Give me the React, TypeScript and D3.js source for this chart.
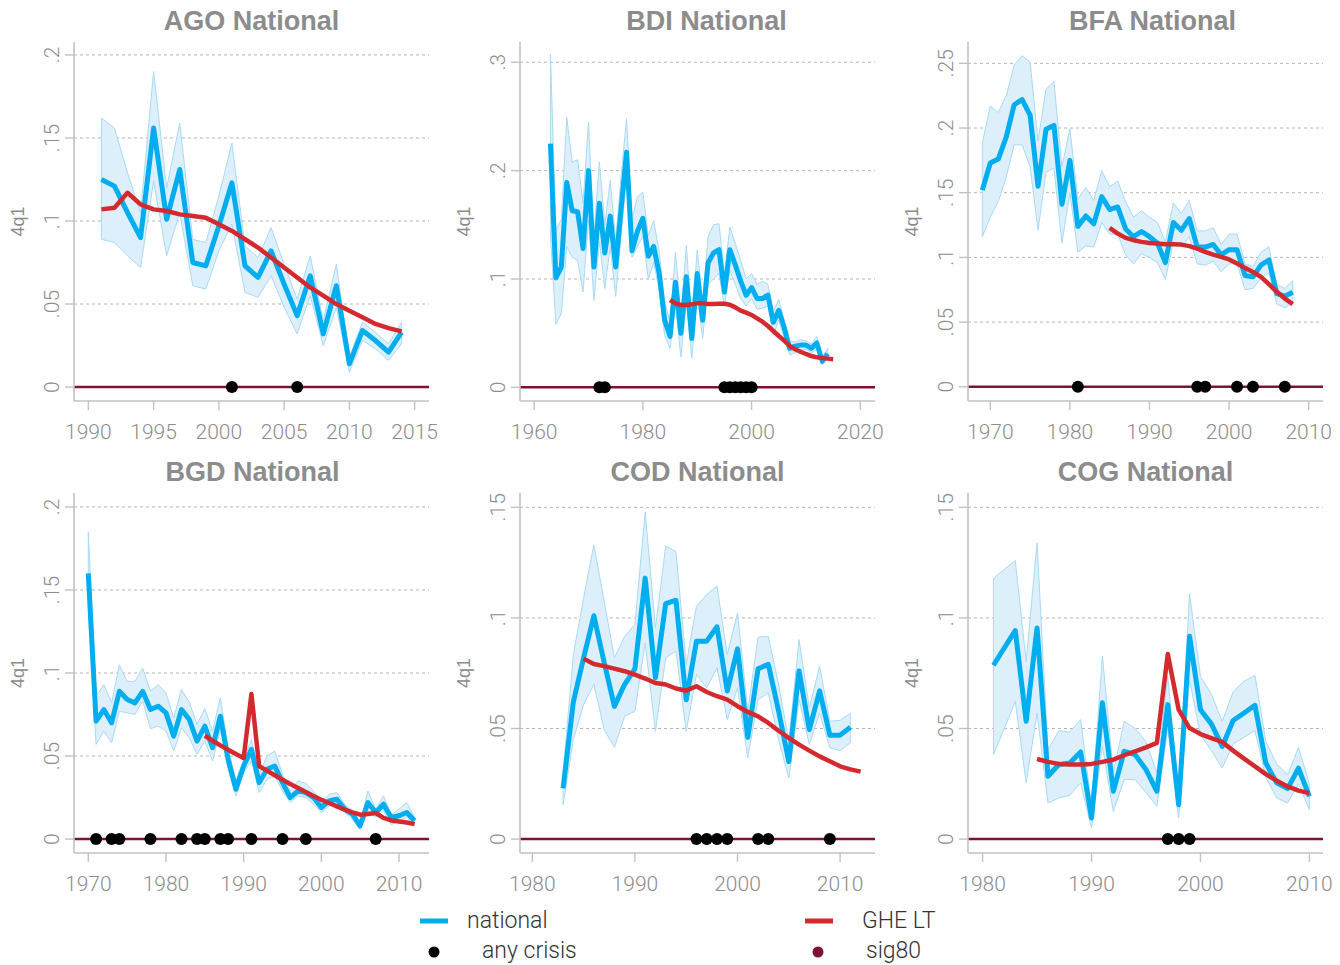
import * as d3 from 'd3';

// ---- data ----
const agoNational = [0.125, 0.121, 0.105, 0.090, 0.156, 0.101, 0.131, 0.075, 0.073, 0.097, 0.123, 0.073, 0.066, 0.082, 0.062, 0.043, 0.067, 0.032, 0.061, 0.014, 0.034, 0.028, 0.021, 0.033];
const agoHi = [0.162, 0.156, 0.129, 0.105, 0.190, 0.120, 0.159, 0.089, 0.087, 0.115, 0.147, 0.085, 0.078, 0.096, 0.074, 0.053, 0.079, 0.040, 0.074, 0.018, 0.039, 0.033, 0.026, 0.039];
const agoLo = [0.089, 0.087, 0.079, 0.072, 0.124, 0.079, 0.105, 0.061, 0.059, 0.082, 0.098, 0.057, 0.054, 0.067, 0.048, 0.032, 0.055, 0.025, 0.048, 0.009, 0.028, 0.023, 0.016, 0.026];
const agoGhe = [0.107, 0.108, 0.117, 0.110, 0.107, 0.106, 0.104, 0.103, 0.102, 0.098, 0.094, 0.089, 0.084, 0.078, 0.072, 0.066, 0.060, 0.055, 0.050, 0.046, 0.042, 0.038, 0.0355, 0.0335];
const agoCrisis = [2001, 2006];

const bdiNational = [0.225, 0.101, 0.111, 0.189, 0.163, 0.162, 0.128, 0.200, 0.111, 0.170, 0.124, 0.158, 0.111, 0.165, 0.217, 0.126, 0.144, 0.156, 0.121, 0.130, 0.105, 0.062, 0.047, 0.097, 0.050, 0.102, 0.045, 0.105, 0.062, 0.115, 0.124, 0.127, 0.088, 0.127, 0.113, 0.098, 0.085, 0.092, 0.082, 0.082, 0.085, 0.060, 0.071, 0.055, 0.036, 0.038, 0.039, 0.039, 0.036, 0.041, 0.024, 0.031];
const bdiHi = [0.307, 0.145, 0.155, 0.249, 0.208, 0.210, 0.170, 0.245, 0.140, 0.208, 0.150, 0.191, 0.135, 0.195, 0.248, 0.155, 0.176, 0.180, 0.140, 0.154, 0.125, 0.080, 0.060, 0.125, 0.065, 0.131, 0.060, 0.127, 0.080, 0.139, 0.150, 0.151, 0.105, 0.148, 0.133, 0.117, 0.100, 0.105, 0.095, 0.098, 0.095, 0.070, 0.081, 0.062, 0.042, 0.042, 0.044, 0.043, 0.040, 0.047, 0.028, 0.036];
const bdiLo = [0.140, 0.058, 0.068, 0.130, 0.120, 0.117, 0.088, 0.155, 0.080, 0.135, 0.091, 0.130, 0.084, 0.140, 0.194, 0.120, 0.130, 0.139, 0.100, 0.115, 0.090, 0.048, 0.036, 0.075, 0.028, 0.080, 0.027, 0.085, 0.045, 0.095, 0.100, 0.105, 0.075, 0.108, 0.095, 0.082, 0.075, 0.082, 0.072, 0.073, 0.075, 0.048, 0.062, 0.046, 0.030, 0.032, 0.035, 0.035, 0.032, 0.035, 0.021, 0.027];
const bdiGhe = [0.0806, 0.0775, 0.076, 0.076, 0.0766, 0.0775, 0.0775, 0.077, 0.077, 0.0772, 0.0772, 0.0763, 0.0738, 0.0708, 0.0689, 0.0668, 0.0637, 0.0606, 0.0566, 0.052, 0.0474, 0.0431, 0.0382, 0.0351, 0.0329, 0.0308, 0.0289, 0.0277, 0.027, 0.0265, 0.026];
const bdiCrisis = [1972, 1973, 1995, 1996, 1997, 1998, 1999, 2000];

const bfaNational = [0.152, 0.173, 0.176, 0.193, 0.218, 0.222, 0.210, 0.155, 0.199, 0.202, 0.141, 0.175, 0.124, 0.132, 0.126, 0.147, 0.137, 0.139, 0.122, 0.116, 0.120, 0.116, 0.111, 0.096, 0.127, 0.121, 0.130, 0.108, 0.108, 0.110, 0.102, 0.106, 0.106, 0.086, 0.085, 0.094, 0.098, 0.072, 0.070, 0.073];
const bfaHi = [0.1885, 0.217, 0.212, 0.225, 0.2485, 0.256, 0.251, 0.190, 0.230, 0.236, 0.170, 0.1995, 0.145, 0.154, 0.144, 0.167, 0.1545, 0.159, 0.143, 0.131, 0.136, 0.131, 0.127, 0.112, 0.142, 0.134, 0.144, 0.1205, 0.1205, 0.123, 0.110, 0.118, 0.118, 0.095, 0.093, 0.104, 0.108, 0.079, 0.076, 0.082];
const bfaLo = [0.116, 0.131, 0.143, 0.162, 0.187, 0.187, 0.170, 0.121, 0.166, 0.169, 0.111, 0.150, 0.104, 0.109, 0.108, 0.127, 0.118, 0.118, 0.102, 0.095, 0.103, 0.100, 0.096, 0.083, 0.112, 0.108, 0.116, 0.095, 0.094, 0.097, 0.089, 0.095, 0.095, 0.075, 0.076, 0.084, 0.088, 0.064, 0.061, 0.065];
const bfaGhe = [0.1228, 0.1184, 0.1151, 0.1133, 0.112, 0.1112, 0.1107, 0.1102, 0.1102, 0.1099, 0.1087, 0.1068, 0.1043, 0.1022, 0.1004, 0.0984, 0.0953, 0.0919, 0.0888, 0.085, 0.0793, 0.0734, 0.0682, 0.0639];
const bfaCrisis = [1981, 1996, 1997, 2001, 2003, 2007];

const bgdNational = [0.160, 0.071, 0.078, 0.070, 0.089, 0.084, 0.082, 0.089, 0.078, 0.080, 0.076, 0.062, 0.078, 0.072, 0.059, 0.068, 0.055, 0.074, 0.048, 0.030, 0.044, 0.054, 0.034, 0.042, 0.044, 0.034, 0.025, 0.029, 0.028, 0.025, 0.019, 0.023, 0.024, 0.018, 0.015, 0.008, 0.022, 0.016, 0.021, 0.013, 0.014, 0.016, 0.011];
const bgdHi = [0.185, 0.086, 0.093, 0.082, 0.105, 0.095, 0.095, 0.103, 0.089, 0.093, 0.088, 0.073, 0.090, 0.0825, 0.069, 0.0785, 0.065, 0.085, 0.055, 0.035, 0.048, 0.060, 0.039, 0.050, 0.053, 0.039, 0.029, 0.035, 0.0335, 0.029, 0.0215, 0.027, 0.028, 0.021, 0.017, 0.0095, 0.029, 0.018, 0.026, 0.0145, 0.018, 0.022, 0.013];
const bgdLo = [0.140, 0.057, 0.065, 0.058, 0.077, 0.076, 0.075, 0.083, 0.0665, 0.068, 0.065, 0.053, 0.067, 0.061, 0.051, 0.059, 0.047, 0.066, 0.042, 0.026, 0.040, 0.047, 0.028, 0.036, 0.038, 0.029, 0.022, 0.026, 0.025, 0.021, 0.016, 0.020, 0.021, 0.016, 0.012, 0.0056, 0.017, 0.013, 0.017, 0.0086, 0.011, 0.013, 0.0085];
const bgdGhe = [0.0622, 0.0592, 0.0564, 0.0538, 0.0512, 0.0488, 0.0873, 0.0438, 0.0412, 0.0384, 0.0357, 0.0331, 0.0307, 0.0283, 0.0259, 0.0237, 0.0217, 0.0197, 0.0177, 0.0161, 0.0147, 0.0151, 0.0157, 0.0127, 0.0112, 0.0106, 0.010, 0.009];
const bgdCrisis = [1971, 1973, 1974, 1978, 1982, 1984, 1985, 1987, 1988, 1991, 1995, 1998, 2007];

const codNational = [0.023, 0.062, 0.082, 0.101, 0.080, 0.060, 0.070, 0.077, 0.118, 0.073, 0.1065, 0.108, 0.063, 0.0895, 0.0895, 0.096, 0.067, 0.086, 0.046, 0.077, 0.079, 0.058, 0.035, 0.076, 0.0495, 0.067, 0.047, 0.047, 0.0506];
const codHi = [0.030, 0.0834, 0.109, 0.133, 0.1076, 0.082, 0.0917, 0.097, 0.148, 0.0955, 0.1325, 0.130, 0.079, 0.1053, 0.1106, 0.1144, 0.0834, 0.1023, 0.0578, 0.0913, 0.0917, 0.070, 0.0442, 0.0902, 0.0593, 0.0782, 0.0533, 0.0537, 0.057];
const codLo = [0.0155, 0.045, 0.0608, 0.070, 0.0495, 0.0415, 0.0555, 0.0578, 0.0887, 0.0487, 0.0819, 0.085, 0.0487, 0.0744, 0.0684, 0.0774, 0.054, 0.0684, 0.0367, 0.0631, 0.0661, 0.045, 0.0276, 0.0631, 0.0427, 0.057, 0.0412, 0.040, 0.0435];
const codGhe = [0.0815, 0.0792, 0.0782, 0.0771, 0.0759, 0.0744, 0.0726, 0.0706, 0.0699, 0.0681, 0.0671, 0.0691, 0.0665, 0.0646, 0.0631, 0.0601, 0.0575, 0.0555, 0.0525, 0.049, 0.0457, 0.0427, 0.040, 0.0374, 0.0352, 0.0329, 0.0315, 0.0305];
const codCrisis = [1996, 1997, 1998, 1999, 2002, 2003, 2009];

const cogNational = [0.0786, 0.0865, 0.0943, 0.0533, 0.0955, 0.0284, 0.0337, 0.0344, 0.0394, 0.0095, 0.0616, 0.0216, 0.0397, 0.0382, 0.0314, 0.0216, 0.0608, 0.0155, 0.0917, 0.0585, 0.0521, 0.0419, 0.0536, 0.057, 0.0605, 0.0344, 0.0254, 0.0228, 0.0321, 0.0193];
const cogHi = [0.1178, 0.122, 0.126, 0.0804, 0.134, 0.0404, 0.049, 0.0484, 0.054, 0.015, 0.0827, 0.030, 0.0533, 0.050, 0.044, 0.030, 0.0736, 0.020, 0.1109, 0.0736, 0.0656, 0.0533, 0.0665, 0.0714, 0.0741, 0.0442, 0.034, 0.029, 0.0415, 0.025];
const cogLo = [0.0382, 0.050, 0.0623, 0.0254, 0.057, 0.0163, 0.0186, 0.0198, 0.0254, 0.005, 0.042, 0.0125, 0.0269, 0.0269, 0.021, 0.0148, 0.050, 0.0095, 0.072, 0.047, 0.040, 0.0321, 0.043, 0.046, 0.049, 0.0279, 0.0186, 0.0163, 0.025, 0.0133];
const cogGhe = [0.0362, 0.0349, 0.034, 0.0337, 0.0337, 0.034, 0.0349, 0.0359, 0.0379, 0.0397, 0.0415, 0.0435, 0.0837, 0.0585, 0.0502, 0.0475, 0.0457, 0.0439, 0.040, 0.0364, 0.0329, 0.0294, 0.0264, 0.0238, 0.0219, 0.0208];
const cogCrisis = [1997, 1998, 1999];

// panel definitions: first year of each series + axis settings
const panels = [
  { title: 'AGO National', natStart: 1991, nat: agoNational, hi: agoHi, lo: agoLo, gheStart: 1991, ghe: agoGhe, crisis: agoCrisis,
    xDomain: [1988.9, 2016.1], xTicks: [1990, 1995, 2000, 2005, 2010, 2015], yDomain: [-0.0084, 0.2078], yTicks: [0, 0.05, 0.1, 0.15, 0.2] },
  { title: 'BDI National', natStart: 1963, nat: bdiNational, hi: bdiHi, lo: bdiLo, gheStart: 1985, ghe: bdiGhe, crisis: bdiCrisis,
    xDomain: [1957.4, 2022.7], xTicks: [1960, 1980, 2000, 2020], yDomain: [-0.0126, 0.3187], yTicks: [0, 0.1, 0.2, 0.3] },
  { title: 'BFA National', natStart: 1969, nat: bfaNational, hi: bfaHi, lo: bfaLo, gheStart: 1985, ghe: bfaGhe, crisis: bfaCrisis,
    xDomain: [1967.2, 2011.8], xTicks: [1970, 1980, 1990, 2000, 2010], yDomain: [-0.011, 0.2665], yTicks: [0, 0.05, 0.1, 0.15, 0.2, 0.25] },
  { title: 'BGD National', natStart: 1970, nat: bgdNational, hi: bgdHi, lo: bgdLo, gheStart: 1985, ghe: bgdGhe, crisis: bgdCrisis,
    xDomain: [1968.16, 2013.86], xTicks: [1970, 1980, 1990, 2000, 2010], yDomain: [-0.0084, 0.2084], yTicks: [0, 0.05, 0.1, 0.15, 0.2] },
  { title: 'COD National', natStart: 1983, nat: codNational, hi: codHi, lo: codLo, gheStart: 1985, ghe: codGhe, crisis: codCrisis,
    xDomain: [1978.8, 2013.4], xTicks: [1980, 1990, 2000, 2010], yDomain: [-0.0063, 0.1565], yTicks: [0, 0.05, 0.1, 0.15] },
  { title: 'COG National', natStart: 1981, nat: cogNational, hi: cogHi, lo: cogLo, gheStart: 1985, ghe: cogGhe, crisis: cogCrisis,
    xDomain: [1978.66, 2011.25], xTicks: [1980, 1990, 2000, 2010], yDomain: [-0.0063, 0.1565], yTicks: [0, 0.05, 0.1, 0.15] },
];

// layout
const W = 1340;
const H = 965;
const colLeft = [74, 520, 968];
const colRight = [429, 875, 1323];
const rowTop = [42, 493];
const rowBottom = [401, 853];
const titleShift = [0, 9, 7, 1, 0, 0];

const BLUE = '#00aeef';
const RED = '#d42a2f';
const BAND = '#dcEFFB';
const BAND_EDGE = '#a8dbf4';
const MAROON = '#7d1232';
const GREY = '#8c8c8c';
const AXIS = '#c2c2c2';
const LIGHT = "Roboto, 'Open Sans', sans-serif";

const fmtY = (v: number) => (v === 0 ? '0' : String(+v.toFixed(2)).replace(/^0/, ''));

function Panel({ p, i }: { p: any; i: number }) {
  const col = i % 3;
  const row = Math.floor(i / 3);
  const left = colLeft[col];
  const right = colRight[col];
  const top = rowTop[row];
  const bottom = rowBottom[row];

  const x = d3.scaleLinear().domain(p.xDomain).range([left, right]);
  const y = d3.scaleLinear().domain(p.yDomain).range([bottom, top]);

  const natRows = p.nat.map((v: number, k: number) => ({ yr: p.natStart + k, v, hi: p.hi[k], lo: p.lo[k] }));
  const gheRows = p.ghe.map((v: number, k: number) => ({ yr: p.gheStart + k, v }));

  const band = d3.area<any>().x(d => x(d.yr)).y0(d => y(d.lo)).y1(d => y(d.hi))(natRows) || '';
  const natLine = d3.line<any>().x(d => x(d.yr)).y(d => y(d.v))(natRows) || '';
  const gheLine = d3.line<any>().x(d => x(d.yr)).y(d => y(d.v))(gheRows) || '';

  return (
    <g>
      <text x={(left + right) / 2 + titleShift[i]} y={top - 12} textAnchor="middle"
        fontFamily="'Liberation Sans', Arial, sans-serif" fontWeight={700} fontSize={27} fill={GREY}>{p.title}</text>

      {/* grid */}
      {p.yTicks.filter((t: number) => t > 0).map((t: number) => (
        <line key={'g' + t} x1={left} x2={right} y1={y(t)} y2={y(t)} stroke="#b5b5b5" strokeWidth={1} strokeDasharray="3 3" />
      ))}

      {/* CI band and lines */}
      <path d={band} fill={BAND} stroke={BAND_EDGE} strokeWidth={1} />
      <line x1={left} x2={right} y1={y(0)} y2={y(0)} stroke={MAROON} strokeWidth={2.5} />
      <path d={natLine} fill="none" stroke={BLUE} strokeWidth={5} strokeLinejoin="round" />
      <path d={gheLine} fill="none" stroke={RED} strokeWidth={4.5} strokeLinejoin="round" />

      {p.crisis.map((c: number) => (
        <circle key={'c' + c} cx={x(c)} cy={y(0)} r={6} fill="#000" />
      ))}

      {/* axes */}
      <line x1={left} x2={left} y1={top} y2={bottom} stroke={AXIS} strokeWidth={1.6} />
      <line x1={left} x2={right} y1={bottom} y2={bottom} stroke={AXIS} strokeWidth={1.6} />
      {p.yTicks.map((t: number) => (
        <g key={'y' + t}>
          <line x1={left - 9} x2={left} y1={y(t)} y2={y(t)} stroke={AXIS} strokeWidth={1.4} />
          <text transform={`translate(${left - 15.5},${y(t)}) rotate(-90)`} textAnchor="middle"
            fontFamily={LIGHT} fontWeight={300} fontSize={21} fill={GREY}>{fmtY(t)}</text>
        </g>
      ))}
      {p.xTicks.map((t: number) => (
        <g key={'x' + t}>
          <line x1={x(t)} x2={x(t)} y1={bottom} y2={bottom + 9} stroke={AXIS} strokeWidth={1.4} />
          <text x={x(t)} y={bottom + 38} textAnchor="middle" fontFamily={LIGHT} fontWeight={300} fontSize={21} fill={GREY}>{t}</text>
        </g>
      ))}
      <text transform={`translate(${left - 50},${(top + bottom) / 2}) rotate(-90)`} textAnchor="middle"
        fontFamily="'Liberation Sans', Arial, sans-serif" fontSize={18} fill={GREY}>4q1</text>
    </g>
  );
}

export default function App() {
  return (
    <svg width={W} height={H} style={{ position: 'absolute', left: 0, top: 0, background: '#fff' }}>
      <rect width={W} height={H} fill="#fff" />
      {panels.map((p, i) => <Panel key={p.title} p={p} i={i} />)}

      {/* legend */}
      <g fontFamily={LIGHT} fontWeight={300} fontSize={23} fill="#333">
        <line x1={420} x2={448} y1={921} y2={921} stroke={BLUE} strokeWidth={5} />
        <text x={467} y={928}>national</text>
        <circle cx={434} cy={952} r={5.5} fill="#000" />
        <text x={482} y={958}>any crisis</text>
        <line x1={805} x2={833} y1={921} y2={921} stroke={RED} strokeWidth={5} />
        <text x={862} y={928}>GHE LT</text>
        <circle cx={818} cy={952} r={5.5} fill={MAROON} />
        <text x={866} y={958}>sig80</text>
      </g>
    </svg>
  );
}
